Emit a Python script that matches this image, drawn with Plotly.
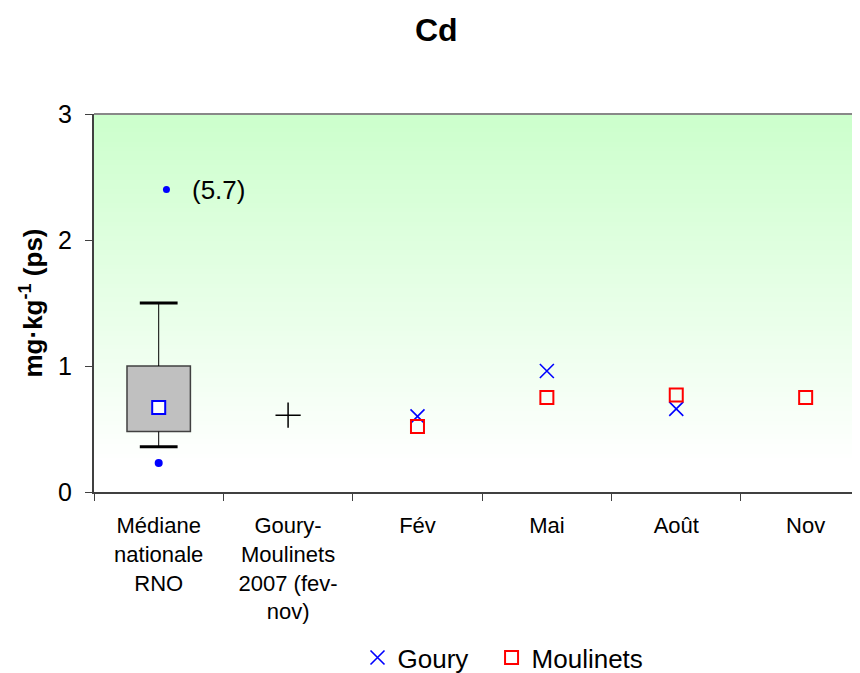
import plotly.graph_objects as go

# categories on the x axis
categories = ["Médiane<br>nationale<br>RNO", "Goury-<br>Moulinets<br>2007 (fev-<br>nov)",
              "Fév", "Mai", "Août", "Nov"]

# national RNO distribution (box)
rno_q1 = 0.48
rno_q3 = 1.0
rno_low = 0.36
rno_high = 1.5
rno_median = 0.67
rno_outlier_low = 0.23
rno_outlier_high = 2.4
rno_outlier_high_label = "(5.7)"

# Goury-Moulinets 2007 mean
gm_2007 = 0.61

# monthly values
months = ["Fév", "Mai", "Août", "Nov"]
goury = [0.60, 0.96, 0.66, None]
moulinets = [0.52, 0.75, 0.77, 0.75]

month_x = [categories.index(m) for m in months]

fig = go.Figure()

# green -> white vertical gradient background
n_strips = 80
top = (204, 255, 204)
for i in range(n_strips):
    t = i / n_strips
    f = min(1.0, t / 0.92)
    c = tuple(int(round(top[k] + (255 - top[k]) * f)) for k in range(3))
    fig.add_shape(type="rect", xref="paper", yref="paper",
                  x0=0, x1=1, y0=1 - (i + 1) / n_strips, y1=1 - i / n_strips + 0.002,
                  fillcolor="rgb(%d,%d,%d)" % c, line_width=0, layer="below")

# box body
fig.add_trace(go.Bar(x=[0], y=[rno_q3 - rno_q1], base=[rno_q1], width=0.49,
                     marker=dict(color="#c0c0c0", line=dict(color="#404040", width=1.5)),
                     showlegend=False, hoverinfo="skip"))
# whiskers
fig.add_trace(go.Scatter(x=[0, 0], y=[rno_q3, rno_q1], mode="markers",
                         marker=dict(size=1, color="rgba(0,0,0,0)"),
                         error_y=dict(type="data", symmetric=False,
                                      array=[rno_high - rno_q3, 0],
                                      arrayminus=[0, rno_q1 - rno_low],
                                      color="black", thickness=1, width=0),
                         showlegend=False, hoverinfo="skip"))
fig.add_trace(go.Scatter(x=[0, 0], y=[rno_high, rno_low], mode="markers",
                         marker=dict(symbol="line-ew", size=27,
                                     line=dict(color="black", width=3)),
                         showlegend=False))
# median
fig.add_trace(go.Scatter(x=[0], y=[rno_median], mode="markers",
                         marker=dict(symbol="square", size=13, color="white",
                                     line=dict(color="blue", width=2)),
                         showlegend=False))
# outliers
fig.add_trace(go.Scatter(x=[0], y=[rno_outlier_low], mode="markers",
                         marker=dict(symbol="circle", size=8, color="blue"),
                         showlegend=False))
fig.add_trace(go.Scatter(x=[0.06], y=[rno_outlier_high], mode="markers",
                         marker=dict(symbol="circle", size=7, color="blue"),
                         showlegend=False))
fig.add_annotation(x=0.06, y=rno_outlier_high, text=rno_outlier_high_label,
                   showarrow=False, xanchor="left", xshift=24,
                   font=dict(size=26, color="black"))

# Goury-Moulinets 2007
fig.add_trace(go.Scatter(x=[1], y=[gm_2007], mode="markers",
                         marker=dict(symbol="cross-thin", size=18,
                                     line=dict(color="black", width=1.5)),
                         showlegend=False))

fig.add_trace(go.Scatter(x=month_x, y=goury, mode="markers", name="Goury",
                         legend="legend",
                         marker=dict(symbol="x-thin", size=14,
                                     line=dict(color="blue", width=1.6))))
fig.add_trace(go.Scatter(x=month_x, y=moulinets, mode="markers", name="Moulinets",
                         legend="legend2",
                         marker=dict(symbol="square-open", size=13,
                                     line=dict(color="red", width=2), color="red")))

# top border
fig.add_shape(type="line", xref="paper", yref="paper", x0=0, x1=1, y0=1, y1=1,
              line=dict(color="#888888", width=2))

legend_style = dict(orientation="h", xanchor="left", y=-0.438, yanchor="middle",
                    font=dict(size=26), itemwidth=30, bgcolor="rgba(0,0,0,0)")

fig.update_layout(
    width=860, height=700,
    margin=dict(l=86, r=8, t=106, b=216),
    paper_bgcolor="white", plot_bgcolor="white",
    font=dict(family="Liberation Sans, Arial", color="black"),
    title=dict(text="<b>Cd</b>", x=0.498, xanchor="center", y=0.969, yanchor="middle",
               font=dict(size=32)),
    showlegend=True,
    legend=dict(x=0.344, **legend_style),
    legend2=dict(x=0.519, **legend_style),
    xaxis=dict(range=[-0.5, 5.42], tickvals=list(range(len(categories))),
               ticktext=categories, ticks="", showgrid=False, zeroline=False,
               showline=True, linecolor="#404040", linewidth=2, automargin=False,
               tickfont=dict(size=22), ticklabelstandoff=13,
               minor=dict(tick0=-0.5, dtick=1, ticks="outside", ticklen=7,
                          tickcolor="#404040", tickwidth=1, showgrid=False)),
    yaxis=dict(range=[0, 3], tickvals=[0, 1, 2, 3], ticks="outside", ticklen=7,
               tickcolor="#404040", showgrid=False, zeroline=False, automargin=False,
               showline=True, linecolor="#404040", linewidth=2,
               tickfont=dict(size=25), ticklabelstandoff=8,
               title=dict(text="<b>mg·kg<sup>-1</sup> (ps)</b>", font=dict(size=26), standoff=8)),
)

fig.write_html("out.html")
